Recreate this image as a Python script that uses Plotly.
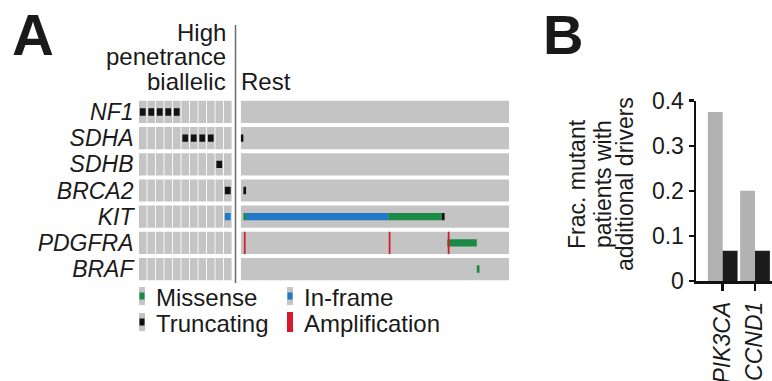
import plotly.graph_objects as go

W, H = 772, 381
FONT = "Liberation Sans, Arial, Helvetica, sans-serif"

# ---------------- data ----------------
genes = ["NF1", "SDHA", "SDHB", "BRCA2", "KIT", "PDGFRA", "BRAF"]
n_hp = 11          # high penetrance biallelic patients
n_rest = 100       # remaining patients

hp_gene = ["NF1"] * 5 + ["SDHA"] * 4 + ["SDHB", "BRCA2", "KIT"]
hp_patient = [0, 1, 2, 3, 4, 5, 6, 7, 8, 9, 10, 10]
hp_type = ["Truncating"] * 11 + ["In-frame"]

rest_gene = ["SDHA", "BRCA2", "KIT", "KIT", "KIT", "KIT", "PDGFRA", "BRAF"]
rest_start = [0, 1, 1, 2, 55, 75, 77, 88]
rest_end = [0, 1, 1, 54, 74, 75, 87, 88]
rest_type = ["Truncating", "Truncating", "Missense", "In-frame", "Missense",
             "Truncating", "Missense", "Missense"]

amp_gene = ["PDGFRA", "PDGFRA", "PDGFRA"]
amp_patient = [1, 55, 77]

b_genes = ["PIK3CA", "CCND1"]
b_hp = [0.375, 0.20]      # gray bars
b_rest = [0.067, 0.067]   # black bars

ylab_lines = ["Frac. mutant", "patients with", "additional drivers"]

colors = {"Missense": "#1b8a45", "In-frame": "#2079c7",
          "Truncating": "#111111", "Amplification": "#d7192b"}
GRAY = "#c4c4c4"

# ---------------- geometry helpers ----------------
def px(x):
    return x / W

def py(y):
    return 1 - y / H

row = {g: i for i, g in enumerate(genes)}
BG_H = 0.85
MARK_H = 0.28

fig = go.Figure()

# left group backgrounds
for g in genes:
    fig.add_trace(go.Bar(x=list(range(n_hp)), y=[BG_H] * n_hp,
                         base=[row[g] - BG_H / 2] * n_hp, width=0.9,
                         marker=dict(color=GRAY, line=dict(width=0)),
                         xaxis="x", yaxis="y", hoverinfo="skip", showlegend=False))
# left group marks
for t in ["Truncating", "In-frame", "Missense"]:
    xs = [p for p, tt in zip(hp_patient, hp_type) if tt == t]
    ys = [row[g] for g, tt in zip(hp_gene, hp_type) if tt == t]
    if xs:
        fig.add_trace(go.Bar(x=xs, y=[MARK_H] * len(xs),
                             base=[r - MARK_H / 2 for r in ys], width=0.68,
                             marker=dict(color=colors[t], line=dict(width=0)),
                             xaxis="x", yaxis="y", hoverinfo="skip", showlegend=False))

# rest backgrounds
fig.add_trace(go.Bar(x=[(n_rest - 1) / 2] * len(genes), y=[BG_H] * len(genes),
                     base=[row[g] - BG_H / 2 for g in genes], width=n_rest,
                     marker=dict(color=GRAY, line=dict(width=0)),
                     xaxis="x2", yaxis="y2", hoverinfo="skip", showlegend=False))
# rest mutation blocks
for t in ["In-frame", "Missense", "Truncating"]:
    idx = [i for i, tt in enumerate(rest_type) if tt == t]
    if idx:
        fig.add_trace(go.Bar(
            x=[(rest_start[i] + rest_end[i]) / 2 for i in idx],
            y=[MARK_H] * len(idx),
            base=[row[rest_gene[i]] - MARK_H / 2 for i in idx],
            width=[rest_end[i] - rest_start[i] + 1 for i in idx],
            marker=dict(color=colors[t], line=dict(width=0)),
            xaxis="x2", yaxis="y2", hoverinfo="skip", showlegend=False))
# amplifications
fig.add_trace(go.Bar(x=amp_patient, y=[BG_H] * len(amp_patient),
                     base=[row[g] - BG_H / 2 for g in amp_gene], width=0.65,
                     marker=dict(color=colors["Amplification"], line=dict(width=0)),
                     xaxis="x2", yaxis="y2", hoverinfo="skip", showlegend=False))

# panel B
fig.add_trace(go.Bar(x=[0, 1], y=b_hp, offset=-0.46, width=0.46,
                     marker=dict(color="#b2b2b2", line=dict(width=0)),
                     xaxis="x3", yaxis="y3", hoverinfo="skip", showlegend=False))
fig.add_trace(go.Bar(x=[0, 1], y=b_rest, offset=0.0, width=0.46,
                     marker=dict(color="#1c1c1c", line=dict(width=0)),
                     xaxis="x3", yaxis="y3", hoverinfo="skip", showlegend=False))

ydom = [py(282.1), py(98.9)]
fig.update_layout(
    width=W, height=H, margin=dict(l=0, r=0, t=0, b=0, pad=0, autoexpand=False),
    paper_bgcolor="white", plot_bgcolor="white",
    barmode="overlay", showlegend=False, hovermode=False,
    font=dict(family=FONT, size=23, color="#1a1a1a"),
    xaxis=dict(domain=[px(138.5), px(232)], range=[-0.5, n_hp - 0.5],
               visible=False, fixedrange=True, automargin=False),
    xaxis2=dict(domain=[px(240.7), px(509)], range=[-0.5, n_rest - 0.5],
                visible=False, fixedrange=True, automargin=False),
    yaxis=dict(domain=ydom, range=[len(genes) - 0.5, -0.5],
               tickvals=list(range(len(genes))),
               ticktext=[f"<i>{g}</i>" for g in genes],
               showgrid=False, zeroline=False, showline=False, ticks="",
               ticklabelstandoff=4, tickfont=dict(size=23), anchor="x",
               automargin=False, fixedrange=True),
    yaxis2=dict(domain=ydom, range=[len(genes) - 0.5, -0.5], visible=False,
                anchor="x2", automargin=False, fixedrange=True),
    xaxis3=dict(domain=[px(696), 1.0], range=[-0.826, 1.526],
                tickvals=[0, 1], ticktext=[f"<i>{g}</i>" for g in b_genes],
                tickangle=-90, ticks="outside", ticklen=7, tickwidth=2.5,
                tickcolor="#111", showline=True, linewidth=2.5, linecolor="#111",
                showgrid=False, zeroline=False, anchor="y3",
                ticklabelstandoff=2,
                tickfont=dict(size=23), automargin=False, fixedrange=True),
    yaxis3=dict(domain=[py(281), py(100.7)], range=[0, 0.4], dtick=0.1,
                ticks="outside", ticklen=5, tickwidth=2.5, tickcolor="#111",
                showline=True, linewidth=2.5, linecolor="#111",
                showgrid=False, zeroline=False, anchor="x3",
                tickfont=dict(size=23), automargin=False, fixedrange=True),
)

# separator line
fig.add_shape(type="line", xref="paper", yref="paper",
              x0=px(235.5), x1=px(235.5), y0=py(25), y1=py(283),
              line=dict(color="#6a6a6a", width=1.5))

ann = []
def text(t, x, y, xanchor="left", size=24, bold=False, angle=0):
    ann.append(dict(text=t, x=px(x), y=py(y), xref="paper", yref="paper",
                    xanchor=xanchor, yanchor="middle", showarrow=False,
                    textangle=angle,
                    font=dict(family=FONT, size=size, color="#1a1a1a",
                              weight="bold" if bold else "normal")))

text("A", 10, 35, size=58, bold=True)
text("B", 541, 34, size=56, bold=True)
text("High", 228, 33, xanchor="right")
text("penetrance", 228, 57, xanchor="right")
text("biallelic", 228, 81, xanchor="right")
text("Rest", 239, 81)
for xc, line in zip([577, 603, 625], ylab_lines):
    text(line, xc, 184, xanchor="center", size=23, angle=-90)

# legend
leg = [("Missense", 139, 296), ("In-frame", 287, 296),
       ("Truncating", 139, 322), ("Amplification", 287, 322)]
for name, x0, yc in leg:
    fig.add_shape(type="rect", xref="paper", yref="paper",
                  x0=px(x0), x1=px(x0 + 6), y0=py(yc + 9), y1=py(yc - 9),
                  fillcolor=GRAY, line=dict(width=0))
    if name == "Amplification":
        fig.add_shape(type="rect", xref="paper", yref="paper",
                      x0=px(x0), x1=px(x0 + 6), y0=py(yc + 10), y1=py(yc - 10),
                      fillcolor=colors[name], line=dict(width=0))
    else:
        fig.add_shape(type="rect", xref="paper", yref="paper",
                      x0=px(x0 + 0.5), x1=px(x0 + 5.5), y0=py(yc + 3.5), y1=py(yc - 3.5),
                      fillcolor=colors[name], line=dict(width=0))
    text(name, x0 + 15, yc + 1)

fig.update_layout(annotations=ann)
fig.write_html("out.html",
               config={"displayModeBar": False, "staticPlot": True},
               post_script="document.body.style.margin='0px';"
                           "document.body.style.overflow='hidden';")
